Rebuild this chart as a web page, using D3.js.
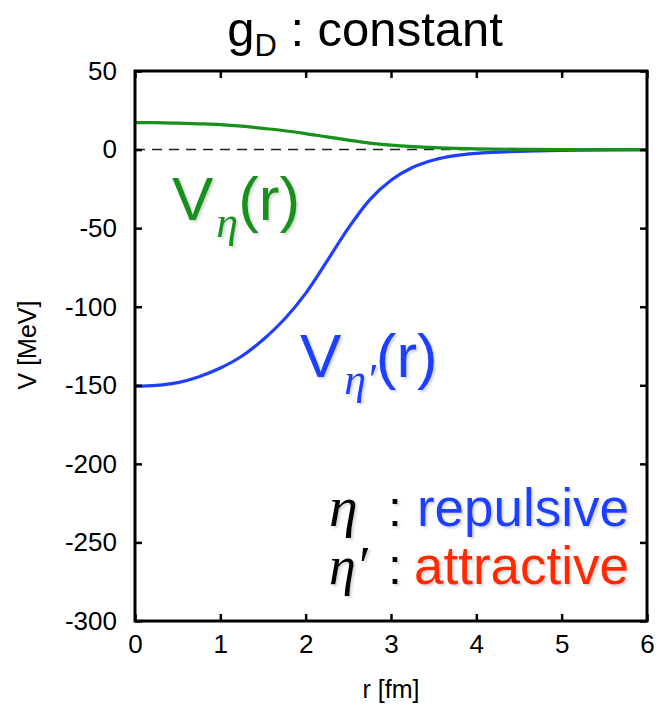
<!DOCTYPE html>
<html>
<head>
<meta charset="utf-8">
<script src="https://cdn.jsdelivr.net/npm/d3@7"></script>
<style>
  html, body { margin: 0; padding: 0; background: #fff; }
  svg { display: block; }
</style>
</head>
<body>
<svg id="chart" width="661" height="705"></svg>
<script>
// ---- data ----
const rValues = [0, 0.25, 0.5, 0.75, 1.0, 1.25, 1.5, 1.75, 2.0, 2.25, 2.5, 2.75, 3.0, 3.25, 3.5, 3.75, 4.0, 4.5, 5.0, 5.5, 6.0];
const vEta = [17.2, 17.1, 16.8, 16.4, 15.9, 14.9, 13.5, 12.0, 10.2, 8.1, 6.0, 4.1, 2.8, 1.9, 1.2, 0.75, 0.45, 0.15, 0.05, 0.02, 0.0];
const vEtaPrime = [-150.5, -150.0, -148.3, -144.5, -139.0, -131.5, -121.0, -108.0, -91.5, -71.0, -50.0, -32.0, -19.5, -11.4, -6.6, -3.9, -2.4, -1.1, -0.45, -0.15, -0.05];
const xTicks = [0, 1, 2, 3, 4, 5, 6];
const yTicks = [50, 0, -50, -100, -150, -200, -250, -300];
const xDomain = [0, 6];
const yDomain = [-300, 50];

// ---- layout ----
const svg = d3.select("#chart");
const M = { left: 135, top: 71, right: 14, bottom: 84 };
const W = 661 - M.left - M.right;
const H = 705 - M.top - M.bottom;
const SANS = "'Liberation Sans', Arial, Helvetica, sans-serif";
const SERIF = "'Liberation Serif', 'Times New Roman', serif";
const GREEN = "#16911a";
const BLUE = "#1f3fff";
const RED = "#ff2a00";

const x = d3.scaleLinear().domain(xDomain).range([0, W]);
const y = d3.scaleLinear().domain(yDomain).range([H, 0]);

const defs = svg.append("defs");
const f = defs.append("filter").attr("id", "sh").attr("x", "-10%").attr("y", "-10%").attr("width", "130%").attr("height", "130%");
f.append("feDropShadow").attr("dx", 2).attr("dy", 2).attr("stdDeviation", 1.2)
  .attr("flood-color", "#888").attr("flood-opacity", 0.35);

const g = svg.append("g").attr("transform", `translate(${M.left},${M.top})`);

// zero dashed line
g.append("line")
  .attr("x1", x(0)).attr("x2", x(6)).attr("y1", y(0)).attr("y2", y(0))
  .attr("stroke", "#222").attr("stroke-width", 1.5).attr("stroke-dasharray", "10,7");

// curves
const line = (vals) => d3.line()
  .x((d, i) => x(rValues[i]))
  .y(d => y(d))
  .curve(d3.curveMonotoneX)(vals);

g.append("path").attr("d", line(vEtaPrime)).attr("fill", "none")
  .attr("stroke", BLUE).attr("stroke-width", 3.2);
g.append("path").attr("d", line(vEta)).attr("fill", "none")
  .attr("stroke", GREEN).attr("stroke-width", 3.2);

// axes (ticks inward, on all 4 sides)
const tickLen = 7;
const fmt = d => String(d);
const axB = g.append("g").attr("transform", `translate(0,${H})`)
  .call(d3.axisBottom(x).tickValues(xTicks).tickSizeInner(-tickLen).tickSizeOuter(0).tickPadding(14).tickFormat(fmt));
const axT = g.append("g")
  .call(d3.axisTop(x).tickValues(xTicks).tickSizeInner(-tickLen).tickSizeOuter(0).tickFormat(""));
const axL = g.append("g")
  .call(d3.axisLeft(y).tickValues(yTicks).tickSizeInner(-tickLen).tickSizeOuter(0).tickPadding(18).tickFormat(fmt));
const axR = g.append("g").attr("transform", `translate(${W},0)`)
  .call(d3.axisRight(y).tickValues(yTicks).tickSizeInner(-tickLen).tickSizeOuter(0).tickFormat(""));

[axB, axT, axL, axR].forEach(a => {
  a.select(".domain").remove();
  a.selectAll(".tick line").attr("stroke", "#000").attr("stroke-width", 2.5);
  a.selectAll("text").attr("font-family", SANS).attr("font-size", 26).attr("fill", "#000");
});
axB.selectAll("text").attr("dy", "0.71em");

// frame
g.append("rect").attr("x", 0).attr("y", 0).attr("width", W).attr("height", H)
  .attr("fill", "none").attr("stroke", "#000").attr("stroke-width", 3);

// axis titles
svg.append("text").attr("x", M.left + W / 2).attr("y", 698)
  .attr("text-anchor", "middle").attr("font-family", SANS).attr("font-size", 25)
  .text("r [fm]");
svg.append("text").attr("transform", `translate(36,345) rotate(-90)`)
  .attr("text-anchor", "middle").attr("font-family", SANS).attr("font-size", 25)
  .text("V [MeV]");

// title
const t = svg.append("text").attr("x", 365).attr("y", 46).attr("text-anchor", "middle")
  .attr("font-family", SANS).attr("font-size", 49).attr("fill", "#000");
t.append("tspan").text("g");
t.append("tspan").attr("font-size", 31).attr("dy", 10).text("D");
t.append("tspan").attr("dy", -10).text(" : constant");

// curve labels
function curveLabel(px, py, color, sub) {
  const tx = svg.append("text").attr("x", px).attr("y", py)
    .attr("font-family", SANS).attr("font-size", 62).attr("fill", color).attr("filter", "url(#sh)");
  tx.append("tspan").text("V");
  tx.append("tspan").attr("font-family", SERIF).attr("font-style", "italic")
    .attr("font-size", 44).attr("dx", 3).attr("dy", 17).text(sub);
  tx.append("tspan").attr("dy", -17).text("(r)");
}
curveLabel(172, 220, GREEN, "\u03B7");
curveLabel(300, 377, BLUE, "\u03B7\u2032");

// legend text
function legendRow(py, sym, symSize, word, color) {
  svg.append("text").attr("x", 329).attr("y", py)
    .attr("font-family", SERIF).attr("font-style", "italic").attr("font-size", symSize)
    .attr("fill", "#000").attr("filter", "url(#sh)").text(sym);
  svg.append("text").attr("x", 388).attr("y", py)
    .attr("font-family", SANS).attr("font-size", 50).attr("fill", "#000")
    .attr("filter", "url(#sh)").text(":");
  svg.append("text").attr("x", 629).attr("y", py).attr("text-anchor", "end")
    .attr("font-family", SANS).attr("font-size", 53).attr("fill", color)
    .attr("filter", "url(#sh)").text(word);
}
legendRow(526, "\u03B7", 58, "repulsive", BLUE);
legendRow(584, "\u03B7\u2032", 54, "attractive", RED);
</script>
</body>
</html>
